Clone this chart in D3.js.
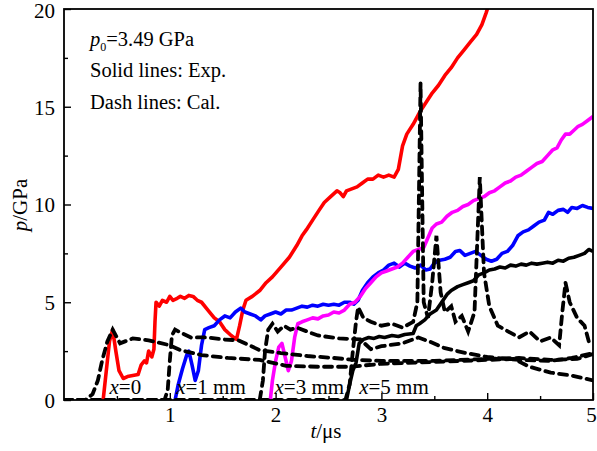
<!DOCTYPE html>
<html>
<head>
<meta charset="utf-8">
<script src="https://cdn.jsdelivr.net/npm/d3@7"></script>
<style>
  body { margin: 0; background: #fff; }
  svg text { font-family: "Liberation Serif", "DejaVu Serif", serif; fill: #000; }
</style>
</head>
<body>
<div id="chart"></div>
<script>
const width = 597;
const height = 451;
const margin = { top: 9, right: 4, bottom: 51, left: 64 };

const xTicks = [1, 2, 3, 4, 5];
const yTicks = [0, 5, 10, 15, 20];

// experimental (solid) curves: [t in us, p in GPa]
const exp0 = [[0.37,0],[0.40,1.5],[0.43,3.0],[0.46,3.6],[0.49,2.5],[0.52,1.5],[0.56,1.1],[0.6,1.2],[0.65,1.25],[0.7,1.3],[0.73,1.8],[0.76,2.0],[0.78,1.9],[0.8,2.5],[0.83,2.2],[0.85,2.6],[0.86,4.0],[0.87,5.0],[0.9,4.8],[0.93,5.1],[0.97,5.0],[1.0,5.3],[1.03,5.1],[1.07,5.2],[1.1,5.3],[1.14,5.2],[1.18,5.35],[1.22,5.3],[1.26,5.1],[1.3,5.0],[1.36,4.6],[1.42,4.2],[1.47,4.0],[1.52,3.6],[1.58,3.3],[1.63,3.1],[1.66,3.8],[1.69,4.6],[1.72,5.1],[1.78,5.3],[1.85,5.6],[1.91,6.0],[1.97,6.3],[2.05,6.8],[2.13,7.3],[2.2,7.9],[2.25,8.4],[2.29,8.7],[2.35,9.2],[2.41,9.7],[2.46,10.1],[2.52,10.4],[2.58,10.7],[2.61,10.6],[2.64,10.4],[2.67,10.7],[2.72,10.8],[2.77,10.9],[2.82,11.1],[2.87,11.3],[2.92,11.3],[2.97,11.5],[3.02,11.4],[3.07,11.5],[3.12,11.4],[3.16,11.8],[3.2,13.0],[3.24,13.6],[3.3,14.1],[3.36,14.7],[3.42,15.2],[3.48,15.7],[3.54,16.1],[3.6,16.6],[3.66,17.0],[3.72,17.5],[3.78,17.9],[3.84,18.3],[3.9,18.7],[3.95,19.2],[3.99,19.8],[4.02,20.3]];
const exp1 = [[1.05,0],[1.08,0.8],[1.12,1.6],[1.16,2.3],[1.18,2.5],[1.21,1.8],[1.24,1.0],[1.27,1.5],[1.3,2.8],[1.33,3.6],[1.37,3.7],[1.42,3.8],[1.47,4.1],[1.52,4.3],[1.57,4.2],[1.62,4.5],[1.67,4.7],[1.71,4.5],[1.76,4.4],[1.81,4.3],[1.86,4.1],[1.9,4.3],[1.95,4.4],[2.0,4.5],[2.05,4.4],[2.1,4.6],[2.15,4.6],[2.2,4.7],[2.25,4.8],[2.3,4.75],[2.35,4.85],[2.4,4.8],[2.45,4.9],[2.5,4.85],[2.55,4.9],[2.6,4.85],[2.65,5.0],[2.7,5.0],[2.74,4.9],[2.78,5.1],[2.82,5.6],[2.87,6.0],[2.92,6.3],[2.97,6.5],[3.02,6.65],[3.07,6.9],[3.12,7.0],[3.17,6.8],[3.22,7.0],[3.27,6.85],[3.32,6.75],[3.37,6.9],[3.42,6.65],[3.46,6.7],[3.5,7.0],[3.55,7.15],[3.6,7.2],[3.65,7.3],[3.7,7.6],[3.74,7.65],[3.79,7.4],[3.84,7.5],[3.89,7.6],[3.94,7.4],[3.99,7.2],[4.04,7.1],[4.09,7.2],[4.14,7.5],[4.19,7.6],[4.24,7.9],[4.29,8.4],[4.34,8.6],[4.39,8.7],[4.44,8.9],[4.49,9.1],[4.54,9.2],[4.58,9.6],[4.62,9.5],[4.67,9.7],[4.72,9.75],[4.76,9.6],[4.8,9.85],[4.85,9.8],[4.9,9.95],[4.95,9.85],[5.0,9.8]];
const exp3 = [[1.95,0],[1.97,1.0],[2.0,2.0],[2.03,2.7],[2.06,2.9],[2.09,2.2],[2.12,1.5],[2.15,2.0],[2.18,3.2],[2.21,3.9],[2.25,4.0],[2.3,4.1],[2.35,4.2],[2.4,4.15],[2.45,4.3],[2.5,4.35],[2.55,4.5],[2.6,4.45],[2.65,4.6],[2.7,4.9],[2.75,5.0],[2.8,5.3],[2.85,5.7],[2.9,6.0],[2.95,6.3],[3.0,6.5],[3.05,6.6],[3.1,6.7],[3.15,6.8],[3.2,7.0],[3.25,7.3],[3.3,7.6],[3.35,7.7],[3.4,7.8],[3.44,8.3],[3.48,8.8],[3.52,9.0],[3.57,9.1],[3.62,9.4],[3.67,9.6],[3.72,9.7],[3.77,9.9],[3.82,10.0],[3.87,10.2],[3.92,10.3],[3.97,10.4],[4.02,10.6],[4.07,10.7],[4.12,10.9],[4.17,11.1],[4.22,11.2],[4.27,11.4],[4.32,11.5],[4.37,11.7],[4.42,11.9],[4.47,12.1],[4.52,12.2],[4.57,12.5],[4.62,12.8],[4.66,12.9],[4.7,13.3],[4.74,13.6],[4.78,13.6],[4.82,13.8],[4.86,14.0],[4.9,14.1],[4.95,14.3],[5.0,14.5]];
const exp5 = [[2.67,0],[2.7,0.8],[2.73,1.5],[2.76,1.9],[2.79,2.9],[2.83,3.1],[2.88,3.2],[2.93,3.15],[2.98,3.25],[3.03,3.2],[3.1,3.3],[3.16,3.25],[3.22,3.35],[3.3,3.4],[3.33,3.8],[3.36,3.9],[3.41,4.1],[3.46,4.4],[3.52,4.6],[3.57,5.0],[3.62,5.4],[3.66,5.6],[3.72,5.8],[3.77,5.9],[3.82,6.0],[3.87,6.1],[3.92,6.4],[3.97,6.5],[4.02,6.65],[4.07,6.7],[4.12,6.8],[4.17,6.75],[4.22,6.9],[4.27,6.85],[4.32,6.95],[4.37,6.9],[4.42,7.0],[4.47,6.95],[4.52,7.0],[4.57,7.05],[4.62,7.0],[4.67,7.15],[4.72,7.1],[4.77,7.25],[4.82,7.3],[4.87,7.4],[4.92,7.5],[4.96,7.7],[5.0,7.6]];

// calculated (dashed) curves
const cal0 = [[0,0],[0.2,0],[0.27,0.3],[0.32,1.0],[0.36,2.0],[0.41,3.0],[0.46,3.6],[0.53,2.9],[0.65,3.15],[0.8,3.05],[1.0,2.8],[1.1,2.55],[1.3,2.3],[1.55,2.15],[1.85,2.05],[2.1,1.75],[2.4,1.7],[2.7,1.7],[3.0,1.85],[3.5,1.95],[4.0,2.05],[4.25,2.1],[4.4,1.7],[4.6,1.4],[4.8,1.25],[5.0,1.0]];
const cal1 = [[0,0],[0.95,0],[0.98,0.5],[1.0,2.0],[1.02,3.3],[1.05,3.6],[1.12,3.4],[1.2,3.2],[1.35,3.2],[1.5,3.1],[1.65,3.05],[1.75,2.8],[1.85,2.55],[2.05,2.4],[2.3,2.25],[2.55,2.15],[2.75,2.05],[3.0,2.0],[3.5,2.0],[4.0,2.1],[4.3,2.15],[4.6,2.05],[4.85,2.1],[5.0,2.35]];
const cal3 = [[0,0],[1.85,0],[1.88,1.0],[1.9,2.5],[1.93,3.6],[1.97,3.9],[2.02,3.5],[2.08,3.8],[2.14,3.6],[2.2,3.7],[2.3,3.5],[2.4,3.3],[2.6,3.15],[2.8,3.1],[2.9,2.6],[3.0,2.75],[3.2,2.9],[3.35,3.2],[3.45,3.0],[3.6,2.65],[3.8,2.4],[4.0,2.2],[4.3,2.05],[4.6,2.0],[4.8,2.15],[5.0,2.4]];
const cal5 = [[0,0],[2.66,0],[2.7,0.8],[2.73,2.5],[2.76,4.0],[2.78,4.75],[2.83,4.2],[2.9,4.0],[3.0,3.8],[3.1,3.9],[3.2,3.7],[3.3,4.0],[3.34,5.0],[3.37,16.2],[3.4,5.0],[3.44,4.2],[3.48,6.0],[3.52,8.4],[3.56,5.5],[3.6,4.5],[3.66,4.8],[3.7,4.0],[3.76,4.3],[3.82,3.5],[3.88,4.5],[3.93,11.4],[3.97,6.5],[4.02,4.8],[4.1,3.8],[4.2,3.5],[4.3,3.2],[4.4,3.5],[4.5,3.0],[4.6,3.2],[4.68,2.8],[4.71,4.5],[4.74,6.0],[4.78,5.0],[4.85,4.2],[4.92,3.8],[4.96,3.0],[5.0,3.2]];

const solidSeries = [
  { data: exp0, color: "#ff0000" },
  { data: exp1, color: "#0000ff" },
  { data: exp3, color: "#ff00ff" },
  { data: exp5, color: "#000000" },
];
const dashSeries = [cal0, cal1, cal3, cal5];

const gaugeLabels = [
  { t: 0.43, name: "0" },
  { t: 1.06, name: "1 mm" },
  { t: 1.99, name: "3 mm" },
  { t: 2.79, name: "5 mm" },
];

const svg = d3.select("#chart").append("svg")
  .attr("width", width)
  .attr("height", height);

const x = d3.scaleLinear().domain([0, 5]).range([margin.left, width - margin.right]);
const y = d3.scaleLinear().domain([0, 20]).range([height - margin.bottom, margin.top]);

svg.append("clipPath").attr("id", "clip")
  .append("rect")
  .attr("x", margin.left).attr("y", margin.top)
  .attr("width", x(5) - x(0)).attr("height", y(0) - y(20));

const line = d3.line().x(d => x(d[0])).y(d => y(d[1]));

const plot = svg.append("g").attr("clip-path", "url(#clip)");

plot.selectAll(".solid").data(solidSeries).enter().append("path")
  .attr("class", "solid")
  .attr("d", d => line(d.data))
  .attr("fill", "none")
  .attr("stroke", d => d.color)
  .attr("stroke-width", 3.6)
  .attr("stroke-linejoin", "round");

plot.selectAll(".dash").data(dashSeries).enter().append("path")
  .attr("class", "dash")
  .attr("d", d => line(d))
  .attr("fill", "none")
  .attr("stroke", "#000")
  .attr("stroke-width", 3.8)
  .attr("stroke-dasharray", "8,6")
  .attr("stroke-linecap", "round");

// axes with inward ticks
const xAxis = d3.axisBottom(x).tickValues(xTicks).tickSize(-7).tickPadding(7).tickFormat(d3.format("d"));
const xMinor = d3.axisBottom(x).tickValues(d3.range(0.5, 5, 1)).tickSize(-4).tickFormat("");
const yAxis = d3.axisLeft(y).tickValues(yTicks).tickSize(-7).tickPadding(9).tickFormat(d3.format("d"));
const yMinor = d3.axisLeft(y).tickValues([2.5, 7.5, 12.5, 17.5]).tickSize(-4).tickFormat("");

const gx = svg.append("g").attr("transform", `translate(0,${y(0)})`).call(xAxis);
svg.append("g").attr("transform", `translate(0,${y(0)})`).call(xMinor);
const gy = svg.append("g").attr("transform", `translate(${x(0)},0)`).call(yAxis);
svg.append("g").attr("transform", `translate(${x(0)},0)`).call(yMinor);

svg.selectAll(".domain").remove();
svg.selectAll(".tick line").attr("stroke", "#000").attr("stroke-width", 1.4);
svg.selectAll(".tick text").style("font-size", "21px").style("font-family", "Liberation Serif, serif");
gx.selectAll(".tick text").attr("dy", "0.71em");
gx.selectAll(".tick text").filter(d => d === 5).attr("x", -2);
gy.selectAll(".tick text").attr("dy", "0.35em");
gy.selectAll(".tick text").filter(d => d === 20).attr("dy", "0.42em");

// frame
svg.append("rect")
  .attr("x", x(0)).attr("y", y(20))
  .attr("width", x(5) - x(0)).attr("height", y(0) - y(20))
  .attr("fill", "none").attr("stroke", "#000").attr("stroke-width", 1.8);

// axis titles
const xt = svg.append("text").attr("x", 326).attr("y", 438)
  .attr("text-anchor", "middle").style("font-size", "21px");
xt.append("tspan").style("font-style", "italic").text("t");
xt.append("tspan").text("/μs");

const yt = svg.append("text")
  .attr("transform", `translate(27,205) rotate(-90)`)
  .attr("text-anchor", "middle").style("font-size", "21px");
yt.append("tspan").style("font-style", "italic").text("p");
yt.append("tspan").text("/GPa");

// annotation
const note = svg.append("g").attr("transform", `translate(${x(0) + 26},0)`);
const t1 = note.append("text").attr("y", 46).style("font-size", "20.5px");
t1.append("tspan").style("font-style", "italic").text("p");
t1.append("tspan").attr("dy", 5).style("font-size", "12px").text("0");
t1.append("tspan").attr("dy", -5).text("=3.49 GPa");
note.append("text").attr("y", 77).style("font-size", "20.5px").text("Solid lines: Exp.");
note.append("text").attr("y", 109).style("font-size", "20.5px").text("Dash lines: Cal.");

// gauge labels
svg.selectAll(".glabel").data(gaugeLabels).enter().append("text")
  .attr("class", "glabel")
  .attr("x", d => x(d.t))
  .attr("y", y(0) - 6)
  .style("font-size", "21px")
  .each(function (d) {
    const s = d3.select(this);
    s.append("tspan").style("font-style", "italic").text("x");
    s.append("tspan").text("=" + d.name);
  });
</script>
</body>
</html>
